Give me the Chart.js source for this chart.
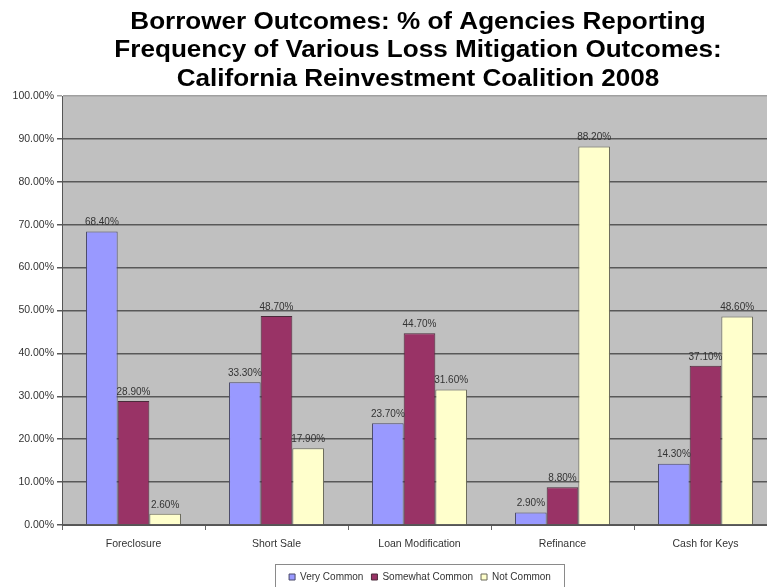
<!DOCTYPE html>
<html>
<head>
<meta charset="utf-8">
<script src="https://cdn.jsdelivr.net/npm/chart.js@4/dist/chart.umd.min.js"></script>
<style>
  html, body { margin: 0; padding: 0; background: #fff; }
  #wrap { width: 767px; height: 587px; overflow: hidden; position: relative; }
  canvas { display: block; }
</style>
</head>
<body>
<div id="wrap"><canvas id="c" width="840" height="592"></canvas></div>
<script>
const titleLines = [
  'Borrower Outcomes: % of Agencies Reporting',
  'Frequency of Various Loss Mitigation Outcomes:',
  'California Reinvestment Coalition 2008'
];
const categories = ['Foreclosure', 'Short Sale', 'Loan Modification', 'Refinance', 'Cash for Keys'];
const seriesNames = ['Very Common', 'Somewhat Common', 'Not Common'];
const veryCommon = [68.4, 33.3, 23.7, 2.9, 14.3];
const somewhatCommon = [28.9, 48.7, 44.7, 8.8, 37.1];
const notCommon = [2.6, 17.9, 31.6, 88.2, 48.6];
const yMin = 0, yMax = 100, yStep = 10;

const FONT = '"Liberation Sans", Arial, sans-serif';
const seriesColors = ['#9999ff', '#993366', '#ffffcc'];

const plotBg = {
  id: 'plotBg',
  beforeDraw(chart) {
    const a = chart.chartArea, ctx = chart.ctx;
    ctx.save();
    ctx.fillStyle = '#c0c0c0';
    ctx.fillRect(a.left, a.top, a.right - a.left, a.bottom - a.top);
    ctx.restore();
  }
};

const stretchedTitle = {
  id: 'stretchedTitle',
  afterDraw(chart) {
    const ctx = chart.ctx;
    const cx = chart.width / 2 - 2;
    const baselines = [28.5, 57, 85.5];
    ctx.save();
    ctx.font = 'bold 23.5px ' + FONT;
    ctx.fillStyle = '#000';
    ctx.textAlign = 'center';
    ctx.textBaseline = 'alphabetic';
    titleLines.forEach((t, i) => {
      ctx.save();
      ctx.translate(cx, baselines[i]);
      ctx.scale(1.11, 1);
      ctx.fillText(t, 0, 0);
      ctx.restore();
    });
    ctx.restore();
  }
};

const valueLabels = {
  id: 'valueLabels',
  afterDatasetsDraw(chart) {
    const ctx = chart.ctx;
    ctx.save();
    ctx.font = '10px ' + FONT;
    ctx.fillStyle = '#333';
    ctx.textAlign = 'center';
    ctx.textBaseline = 'bottom';
    chart.data.datasets.forEach((ds, i) => {
      chart.getDatasetMeta(i).data.forEach((el, j) => {
        ctx.fillText(ds.data[j].toFixed(2) + '%', el.x, el.y - 4);
      });
    });
    ctx.restore();
  }
};

const legendBox = {
  id: 'legendBox',
  afterDraw(chart) {
    const lg = chart.legend;
    if (!lg || !lg.legendHitBoxes || !lg.legendHitBoxes.length) return;
    const hb = lg.legendHitBoxes;
    let l = Infinity, r = -Infinity, t = Infinity;
    hb.forEach(h => { l = Math.min(l, h.left); r = Math.max(r, h.left + h.width); t = Math.min(t, h.top); });
    const ctx = chart.ctx;
    ctx.save();
    ctx.strokeStyle = '#8a8a8a';
    ctx.lineWidth = 1;
    ctx.strokeRect(Math.round(l - 14) + 0.5, Math.round(t - 8) + 0.5, Math.round(r - l + 27), 30);
    ctx.restore();
  }
};

new Chart(document.getElementById('c'), {
  type: 'bar',
  data: {
    labels: categories,
    datasets: [
      { label: seriesNames[0], data: veryCommon, backgroundColor: seriesColors[0], borderColor: '#4a4a6a', borderWidth: 1 },
      { label: seriesNames[1], data: somewhatCommon, backgroundColor: seriesColors[1], borderColor: '#4a2a3a', borderWidth: 1 },
      { label: seriesNames[2], data: notCommon, backgroundColor: seriesColors[2], borderColor: '#6a6a5a', borderWidth: 1 }
    ]
  },
  options: {
    responsive: false,
    animation: false,
    categoryPercentage: 0.664,
    barPercentage: 1.0,
    layout: { padding: { top: 96, left: 0, right: 0, bottom: 0 } },
    plugins: {
      title: { display: false },
      legend: {
        position: 'bottom',
        labels: {
          boxWidth: 6,
          boxHeight: 6,
          padding: 8,
          color: '#333',
          font: { family: FONT, size: 10 }
        }
      },
      tooltip: { enabled: false }
    },
    scales: {
      x: {
        grid: { display: true, drawOnChartArea: false, drawTicks: true, tickLength: 5, color: '#666', offset: true },
        border: { display: true, color: '#555', width: 1 },
        ticks: { color: '#333', font: { family: FONT, size: 10.5 }, padding: 8, maxRotation: 0 },
        afterFit(s) { s.height = 39; }
      },
      y: {
        min: yMin, max: yMax,
        grid: {
          color: (c) => (c.tick && c.tick.value === yMax) ? '#a0a0a0' : '#585858',
          lineWidth: 1.5,
          tickLength: 5,
          drawTicks: true
        },
        border: { display: true, color: '#555', width: 1 },
        ticks: {
          stepSize: yStep,
          color: '#333',
          font: { family: FONT, size: 10.5 },
          padding: 3,
          callback: (v) => v.toFixed(2) + '%'
        },
        afterFit(s) { s.width = 62; }
      },
      yRight: {
        position: 'right',
        display: true,
        grid: { display: false, drawTicks: false },
        border: { display: false },
        ticks: { display: false },
        afterFit(s) { s.width = 63; }
      }
    }
  },
  plugins: [plotBg, valueLabels, legendBox, stretchedTitle]
});
</script>
</body>
</html>
